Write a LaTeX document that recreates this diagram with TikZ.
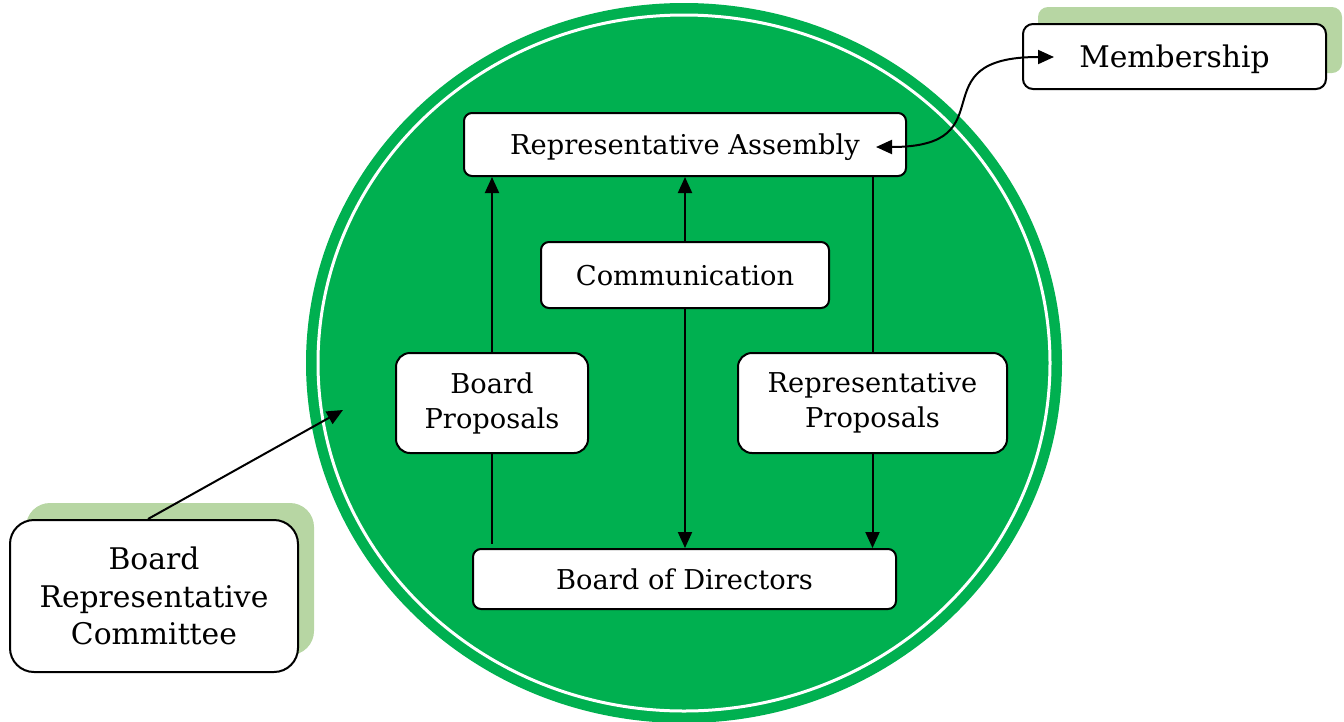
\documentclass[tikz,border=0pt]{standalone}
\usepackage{fontspec}
\setmainfont{DejaVu Serif}
\usetikzlibrary{arrows.meta,calc}
\definecolor{cgreen}{HTML}{00B050}
\definecolor{cshadow}{HTML}{B7D6A3}
\tikzset{
  box/.style={draw=black, line width=2pt, fill=white, rounded corners=8pt, align=center, inner sep=0pt, font=\fontsize{27.3}{35}\selectfont},
  bigbox/.style={box, font=\fontsize{29.8}{37.5}\selectfont},
  oneline/.style={text depth=0pt},
  shadowbox/.style={fill=cshadow, draw=none, rounded corners=10pt},
  conn/.style={line width=2pt, draw=black},
  arr/.style={conn, -{Triangle[length=16pt,width=14pt]}},
  darr/.style={conn, {Triangle[length=16pt,width=14pt]}-{Triangle[length=16pt,width=14pt]}}
}
\begin{document}
\begin{tikzpicture}[x=1pt,y=-1pt]
\useasboundingbox (0,0) rectangle (1344,721);
% big circle
\fill[cgreen] (684,363) ellipse [x radius=378, y radius=360];
\draw[white, line width=3pt] (684,363) ellipse [x radius=366, y radius=348];
% shadows
\fill[shadowbox] (1038,7) rectangle (1342,73);
\fill[shadowbox, rounded corners=24pt] (26,503) rectangle (314,655);
% nodes
\node[box, oneline, minimum width=442pt, minimum height=63pt] (RA) at (685,144.5) {Representative Assembly};
\node[box, oneline, minimum width=288pt, minimum height=66pt] (Comm) at (685,275) {Communication};
\node[box, rounded corners=14pt, minimum width=192pt, minimum height=100pt] (BP) at (492,403) {Board\\Proposals};
\node[box, rounded corners=14pt, minimum width=269pt, minimum height=100pt] (RP) at (872.5,403) {Representative\\Proposals};
\node[box, oneline, minimum width=423pt, minimum height=60pt] (BoD) at (684.5,579) {Board of Directors};
\node[bigbox, oneline, rounded corners=10pt, minimum width=303pt, minimum height=65pt] (Mem) at (1174.5,56.5) {Membership};
\node[bigbox, rounded corners=24pt, minimum width=288pt, minimum height=152pt] (BRC) at (154,596) {Board\\Representative\\Committee};
% coordinates
\coordinate (brcTip) at (343,410);
\coordinate (raIn) at (876,147);
\coordinate (memIn) at (1054,57);
% connectors
\draw[arr] (BP.north) -- (BP.north |- RA.south);
\draw[conn, shorten >=4pt] (BP.south) -- (BP.south |- BoD.north);
\draw[arr] (Comm.north) -- (Comm.north |- RA.south);
\draw[arr] (Comm.south) -- (Comm.south |- BoD.north);
\draw[conn] (RP.north |- RA.south) -- (RP.north);
\draw[arr] (RP.south) -- (RP.south |- BoD.north);
\draw[arr] (BRC.north) ++(-6,0) coordinate (brcTop) (brcTop) -- (brcTip);
\draw[darr] (raIn) .. controls (1010,147) and (915,57) .. (memIn);
\end{tikzpicture}
\end{document}
